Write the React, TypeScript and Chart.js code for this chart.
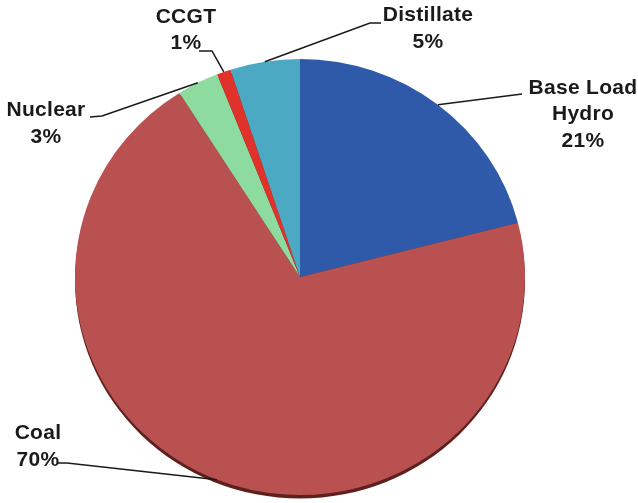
import React, { useEffect, useRef } from "react";
import { Chart, registerables } from "chart.js";

Chart.register(...registerables);

const categories = ["Base Load Hydro", "Coal", "Nuclear", "CCGT", "Distillate"];
const labelLines = [["Base Load", "Hydro"], ["Coal"], ["Nuclear"], ["CCGT"], ["Distillate"]];
const shares = [21, 70, 3, 1, 5];
const colors = ["#2f5aa9", "#b95150", "#8edb9f", "#e0312a", "#4ca9c4"];

// label layout (text centre x, line centre ys, leader elbow points)
const layout = [
  { x: 583, ys: [88, 114, 141], path: [[522, 94]] },
  { x: 38, ys: [433, 460], path: [[67, 463], [58, 463]] },
  { x: 46, ys: [110, 137], path: [[102, 116], [90, 117]] },
  { x: 186, ys: [17, 43], path: [[212, 51], [199, 51]] },
  { x: 428, ys: [15, 42], path: [[370, 23], [381, 23]] },
];

const SY = 218 / 225;

const ellipsePlugin = {
  id: "ellipse",
  beforeDatasetsDraw(chart: any) {
    const ctx = chart.ctx;
    const arc = chart.getDatasetMeta(0).data[0];
    const cy = arc.y;
    ctx.save();
    ctx.translate(0, cy);
    ctx.scale(1, SY);
    ctx.translate(0, -cy);
    ctx.beginPath();
    ctx.arc(arc.x, cy + 3.5 / SY, arc.outerRadius, 0, Math.PI * 2);
    ctx.fillStyle = "#5e201e";
    ctx.fill();
  },
  afterDatasetsDraw(chart: any) {
    chart.ctx.restore();
  },
};

const labelPlugin = {
  id: "leaderLabels",
  afterDraw(chart: any) {
    const ctx = chart.ctx;
    const arcs = chart.getDatasetMeta(0).data;
    ctx.save();
    arcs.forEach((arc: any, i: number) => {
      const a = (arc.startAngle + arc.endAngle) / 2;
      const ax = arc.x + arc.outerRadius * Math.cos(a);
      const ay = arc.y + arc.outerRadius * Math.sin(a) * SY;
      const L = layout[i];
      ctx.beginPath();
      ctx.moveTo(ax, ay);
      L.path.forEach((p) => ctx.lineTo(p[0], p[1]));
      ctx.strokeStyle = "#1a1a1a";
      ctx.lineWidth = 1.5;
      ctx.stroke();
      const lines = [...labelLines[i], shares[i] + "%"];
      ctx.fillStyle = "#1a1a1a";
      ctx.font = "bold 21px 'Liberation Sans', Arial, sans-serif";
      try { (ctx as any).letterSpacing = "0.3px"; } catch (e) {}
      ctx.textAlign = "center";
      ctx.textBaseline = "middle";
      lines.forEach((t, k) => ctx.fillText(t, L.x, L.ys[k]));
    });
    ctx.restore();
  },
};

export default function App() {
  const ref = useRef<HTMLCanvasElement>(null);
  useEffect(() => {
    const chart = new Chart(ref.current!, {
      type: "pie",
      data: {
        labels: categories,
        datasets: [
          {
            data: shares,
            backgroundColor: colors,
            borderWidth: 0,
          },
        ],
      },
      options: {
        responsive: false,
        animation: false,
        layout: { padding: { left: 75, right: 113, top: 52, bottom: 1 } },
        plugins: {
          legend: { display: false },
          tooltip: { enabled: false },
        },
      },
      plugins: [ellipsePlugin, labelPlugin],
    });
    return () => chart.destroy();
  }, []);
  return (
    <div style={{ position: "fixed", left: 0, top: 0, width: 638, height: 503, background: "#fff" }}>
      <canvas ref={ref} width={638} height={503} />
    </div>
  );
}
